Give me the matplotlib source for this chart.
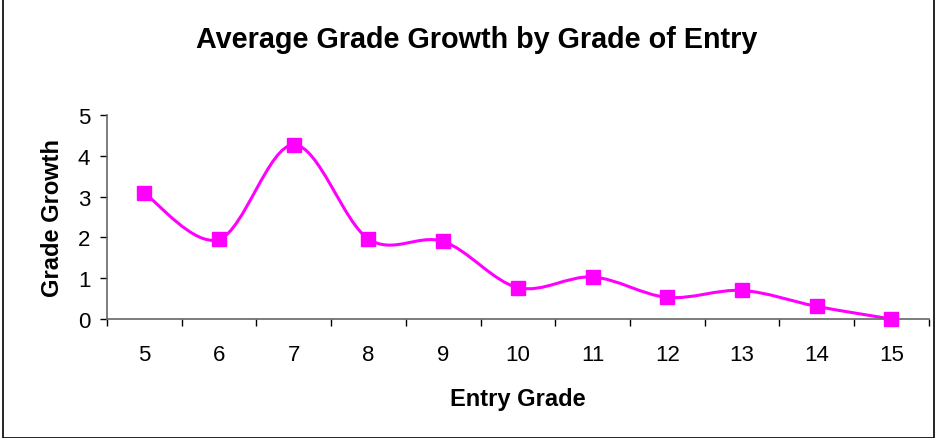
import matplotlib.pyplot as plt
from matplotlib.path import Path
from matplotlib.patches import PathPatch, Rectangle
import numpy as np

plt.rcParams['font.family'] = ['Liberation Sans', 'DejaVu Sans']

grades = [5, 6, 7, 8, 9, 10, 11, 12, 13, 14, 15]
growth = [3.08, 1.95, 4.27, 1.96, 1.90, 0.77, 1.03, 0.53, 0.70, 0.31, 0.0]

magenta = '#FF00FF'

fig = plt.figure(figsize=(9.37, 4.39), dpi=100)
fig.patches.append(Rectangle((0.003, 0.001), 0.994, 0.998, transform=fig.transFigure,
                             fill=False, edgecolor='black', linewidth=1.2))
ax = fig.add_axes([0.1142, 0.271, 0.877, 0.465])

# smoothed line like Excel: cubic bezier segments through the points
x = np.arange(len(grades), dtype=float)
y = np.array(growth, dtype=float)
verts = [(x[0], y[0])]
codes = [Path.MOVETO]
for i in range(len(x) - 1):
    p0 = (x[i - 1], y[i - 1]) if i > 0 else (x[i], y[i])
    p3 = (x[i + 2], y[i + 2]) if i + 2 < len(x) else (x[i + 1], y[i + 1])
    c1 = (x[i] + (x[i + 1] - p0[0]) / 6, y[i] + (y[i + 1] - p0[1]) / 6)
    c2 = (x[i + 1] - (p3[0] - x[i]) / 6, y[i + 1] - (p3[1] - y[i]) / 6)
    verts += [c1, c2, (x[i + 1], y[i + 1])]
    codes += [Path.CURVE4] * 3
ax.add_patch(PathPatch(Path(verts, codes), fill=False, edgecolor=magenta, linewidth=2.2,
                       zorder=2, clip_on=False))
ax.plot(x, y, linestyle='none', marker='s', markersize=9.5, color=magenta, zorder=3, clip_on=False)

ax.set_xlim(-0.5, len(grades) - 0.5)
ax.set_ylim(0, 5)
ax.set_xticks(x)
ax.set_xticklabels([str(g) for g in grades])
ax.set_xticks(np.arange(-0.5, len(grades), 1.0), minor=True)
ax.tick_params(axis='x', which='major', length=0, labelsize=16, pad=18)
ax.tick_params(axis='x', which='minor', length=5, width=1)
ax.set_yticks(range(6))
ax.tick_params(axis='y', length=5, width=1, labelsize=16, pad=7)

for s in ['top', 'right']:
    ax.spines[s].set_visible(False)
for s in ['left', 'bottom']:
    ax.spines[s].set_color('#666666')
    ax.spines[s].set_linewidth(1.2)

ax.set_xlabel('Entry Grade', fontsize=17, fontweight='bold', labelpad=16)
ax.set_ylabel('Grade Growth', fontsize=17, fontweight='bold', labelpad=10)
fig.text(0.509, 0.909, 'Average Grade Growth by Grade of Entry', ha='center', va='center',
         fontsize=20.7, fontweight='bold')

fig.savefig('out.png', dpi=100)
